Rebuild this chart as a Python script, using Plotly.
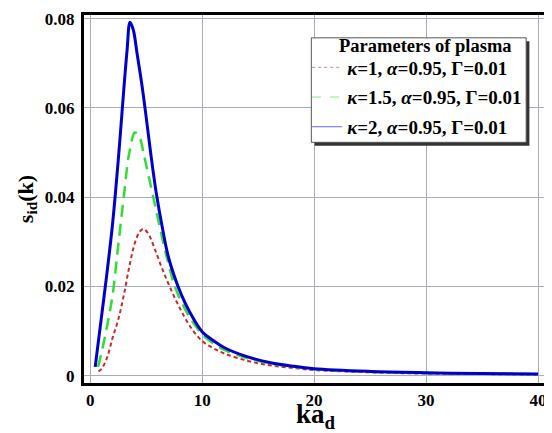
import plotly.graph_objects as go

# kappa = 1 (red dotted)
x_k1 = [0.74, 1.0, 1.5, 2.0, 2.5, 3.0, 3.5, 4.0, 4.4, 4.75, 5.2, 5.8, 6.4, 7.1, 8.0, 9.0, 10.0, 11.0, 12.0, 14.0, 16.0, 18.0, 20.0, 25.0, 30.0, 35.0, 40.0]
y_k1 = [0.001, 0.0015, 0.004, 0.0085, 0.0125, 0.018, 0.0245, 0.0298, 0.0322, 0.0329, 0.0318, 0.0282, 0.0242, 0.020, 0.0152, 0.0108, 0.0078, 0.0062, 0.005, 0.0034, 0.0024, 0.0018, 0.0013, 0.0008, 0.0005, 0.0004, 0.0003]

# kappa = 1.5 (green dashed)
x_k15 = [0.7, 1.0, 1.5, 2.0, 2.5, 3.0, 3.5, 4.0, 4.4, 4.8, 5.2, 5.64, 6.2, 6.9, 7.57, 8.5, 9.0, 10.0, 11.0, 12.0, 14.0, 16.0, 18.0, 20.0, 25.0, 30.0, 35.0, 40.0]
y_k15 = [0.002, 0.005, 0.011, 0.018, 0.029, 0.040, 0.050, 0.0545, 0.0535, 0.0495, 0.045, 0.040, 0.0335, 0.026, 0.020, 0.0148, 0.0127, 0.0093, 0.0073, 0.0058, 0.004, 0.0028, 0.0021, 0.0015, 0.0009, 0.0006, 0.0005, 0.0004]

# kappa = 2 (blue solid)
x_k2 = [0.45, 1.0, 1.5, 2.0, 2.5, 3.0, 3.3, 3.56, 3.85, 4.2, 4.6, 5.0, 5.4, 5.9, 6.5, 7.0, 7.85, 8.5, 9.0, 10.0, 11.0, 12.0, 14.0, 16.0, 18.0, 20.0, 25.0, 30.0, 35.0, 40.0]
y_k2 = [0.002, 0.013, 0.023, 0.034, 0.048, 0.064, 0.073, 0.0792, 0.0775, 0.072, 0.0655, 0.058, 0.050, 0.041, 0.0325, 0.0265, 0.020, 0.0162, 0.0138, 0.0099, 0.0079, 0.0063, 0.0043, 0.003, 0.0022, 0.0016, 0.001, 0.0007, 0.0005, 0.0004]

names = [
    "<b><i>κ</i>=1, <i>α</i>=0.95, Γ=0.01</b>",
    "<b><i>κ</i>=1.5, <i>α</i>=0.95, Γ=0.01</b>",
    "<b><i>κ</i>=2, <i>α</i>=0.95, Γ=0.01</b>",
]
legend_title = "<b>Parameters of plasma</b>"

x_ticks = [0, 10, 20, 30, 40]
y_ticks = [0, 0.02, 0.04, 0.06, 0.08]
y_tick_text = ["0", "0.02", "0.04", "0.06", "0.08"]

serif = "Liberation Serif"
colors = ["#cc2a2a", "#33dd33", "#0000cc"]
dashes = ["4px,3px", "12px,7px", "solid"]
widths = [2, 2.5, 3]

fig = go.Figure()
for xs, ys, c, d, w in zip([x_k1, x_k15, x_k2], [y_k1, y_k15, y_k2], colors, dashes, widths):
    fig.add_trace(go.Scatter(x=xs, y=ys, mode="lines", showlegend=False, line_shape="spline",
                             line=dict(color=c, width=w, dash=d)))
# legend entries (thin sample lines, as in the reference)
for i, (n, c, d) in enumerate(zip(names, colors, ["dot", "dash", "solid"])):
    fig.add_trace(go.Scatter(x=[None], y=[None], mode="lines", name=n, legendgroup=f"g{i}",
                             line=dict(color=c, width=1, dash=d), opacity=0.6))

# legend frame with drop shadow (paper coordinates of the plot area)
bx0, bx1, by0, by1 = 0.491, 0.955, 0.654, 0.938
sdx, sdy = 0.007, 0.009
fig.add_shape(type="rect", xref="paper", yref="paper", x0=bx0 + sdx, x1=bx1 + sdx, y0=by0 - sdy, y1=by1 - sdy,
              fillcolor="#333333", line=dict(width=0), layer="above")
fig.add_shape(type="rect", xref="paper", yref="paper", x0=bx0, x1=bx1, y0=by0, y1=by1,
              fillcolor="white", line=dict(color="#555555", width=1), layer="above")
fig.add_annotation(text=legend_title, xref="paper", yref="paper", x=0.738, y=0.917,
                   xanchor="center", yanchor="middle", showarrow=False,
                   font=dict(size=18.5, family=serif, color="black"))

# page body has an 8px margin, so the figure is 8px smaller and offset
fig.update_layout(
    width=544, height=425,
    margin=dict(l=76, r=4, t=2, b=50),
    paper_bgcolor="white", plot_bgcolor="white",
    font=dict(family=serif, color="black", size=17),
    showlegend=True,
    legend=dict(
        x=0.482, y=0.909, xanchor="left", yanchor="top",
        bgcolor="rgba(0,0,0,0)", borderwidth=0,
        font=dict(size=19, family=serif),
        tracegroupgap=2, itemwidth=30,
    ),
    xaxis=dict(
        range=[-0.55, 40.8], tickvals=x_ticks, ticktext=[f"<b>{v}</b>" for v in x_ticks],
        showgrid=True, gridcolor="#a9a9c4", gridwidth=1, zeroline=False,
        showline=True, linecolor="black", linewidth=3, mirror=True,
        ticks="inside", ticklen=4, tickcolor="#a9a9c4",
        tickfont=dict(size=17, family=serif),
        title=dict(text="<b>ka<sub>d</sub></b>", font=dict(size=27, family=serif), standoff=0),
    ),
    yaxis=dict(
        range=[-0.0016, 0.0808], tickvals=y_ticks, ticktext=[f"<b>{t}</b>" for t in y_tick_text],
        showgrid=True, gridcolor="#a9a9c4", gridwidth=1, zeroline=False,
        showline=True, linecolor="black", linewidth=3, mirror=True,
        ticks="inside", ticklen=4, tickcolor="#a9a9c4",
        tickfont=dict(size=17, family=serif), ticklabeloverflow="allow", ticklabelstandoff=3,
        title=dict(text="<b>s<sub>id</sub>(k)</b>", font=dict(size=22, family=serif), standoff=6),
    ),
)

fig.write_html("out.html")
